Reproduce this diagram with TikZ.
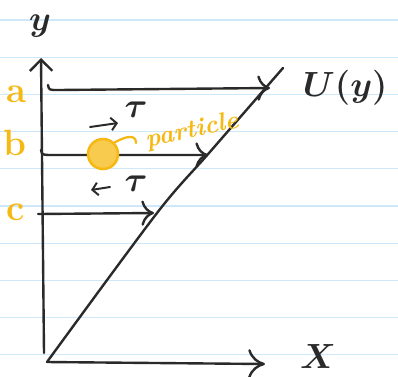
\documentclass[tikz,border=0pt]{standalone}
\usepackage{tikz}
\usepackage{amsmath,amssymb}
\usepackage{xcolor}
\usetikzlibrary{arrows.meta,positioning,calc}

\definecolor{ink}{HTML}{2A2A2A}
\definecolor{marker}{HTML}{F6B812}
\definecolor{ruling}{HTML}{CFE8F9}

\begin{document}
\begin{tikzpicture}[x=0.025cm,y=-0.025cm,
  pen/.style={draw=ink,line width=1.7pt,line cap=round,line join=round},
  flow/.style={pen,-{Computer Modern Rightarrow[length=9pt,width=18pt]}},
  shear/.style={pen,line width=1.4pt,-{Straight Barb[length=4pt,width=9pt]}},
  big/.style={text=ink,font=\fontsize{28}{32}\selectfont\boldmath},
  tag/.style={text=marker,font=\fontsize{26}{30}\selectfont\bfseries}]
\useasboundingbox (0,0) rectangle (398,376);
\fill[white] (0,0) rectangle (398,376);
% ruled paper
\foreach \k in {0,...,9}
  \draw[ruling,line width=0.9pt] (0,{20+37.2*\k}) -- (398,{20+37.2*\k});

% axes
\coordinate (yfoot) at (44,353);
\coordinate (ytip) at (41,58);
\coordinate (origin) at (47,362);
\coordinate (xtip) at (265,364);
\draw[pen,-{Straight Barb[length=8pt,width=16pt]}] (yfoot) -- (ytip);
\draw[pen,-{Computer Modern Rightarrow[length=12pt,width=21pt]}] (origin) -- (xtip);
\node[big,anchor=base] (ylab) at (40,30) {$y$};
\node[big,anchor=base] (xlab) at (318,368) {$X$};

% velocity profile
\draw[pen] plot[smooth] coordinates {(origin) (157,213) (209,153) (283,68)};
\node[big,anchor=base west] (ulab) at (298,96) {$U(y)$};

% layers a, b, c
\node[tag,anchor=base] (la) at (16,102) {a};
\node[tag,anchor=base] (lb) at (15,155) {b};
\node[tag,anchor=base] (lc) at (16,220) {c};
\coordinate (a0) at (48,85);
\coordinate (a1) at (270,88);
\coordinate (b0) at (41,150);
\coordinate (b1) at (208,155);
\coordinate (c0) at (38,214);
\coordinate (c1) at (154,213);
\draw[flow] (a0) .. controls (49,90) .. (58,90) -- (a1);
\draw[flow] (b0) .. controls (42,155) .. (55,155) -- (b1);
\draw[flow] (c0) -- (c1);

% shear stress
\node[big,inner sep=0pt] (tauup) at (136,110) {$\tau$};
\node[big,inner sep=0pt] (taudn) at (136,184) {$\tau$};
\coordinate (s0) at (90,127);
\coordinate (s1) at (118,123);
\coordinate (s2) at (110,187);
\coordinate (s3) at (91,190);
\draw[shear] (s0) -- (s1);
\draw[shear] (s2) -- (s3);

% particle
\node[circle,draw=marker,fill=marker!75,line width=1.8pt,minimum size=0.75cm] (part) at (103,154) {};
\node[tag,inner sep=0pt,font=\fontsize{18}{21}\selectfont\bfseries\itshape,rotate=12] (ptext) at (192,131) {particle};
\draw[marker,line width=1.6pt,line cap=round] (part.north east) .. controls (126,136) and (136,134) .. (136,143);
\end{tikzpicture}
\end{document}
